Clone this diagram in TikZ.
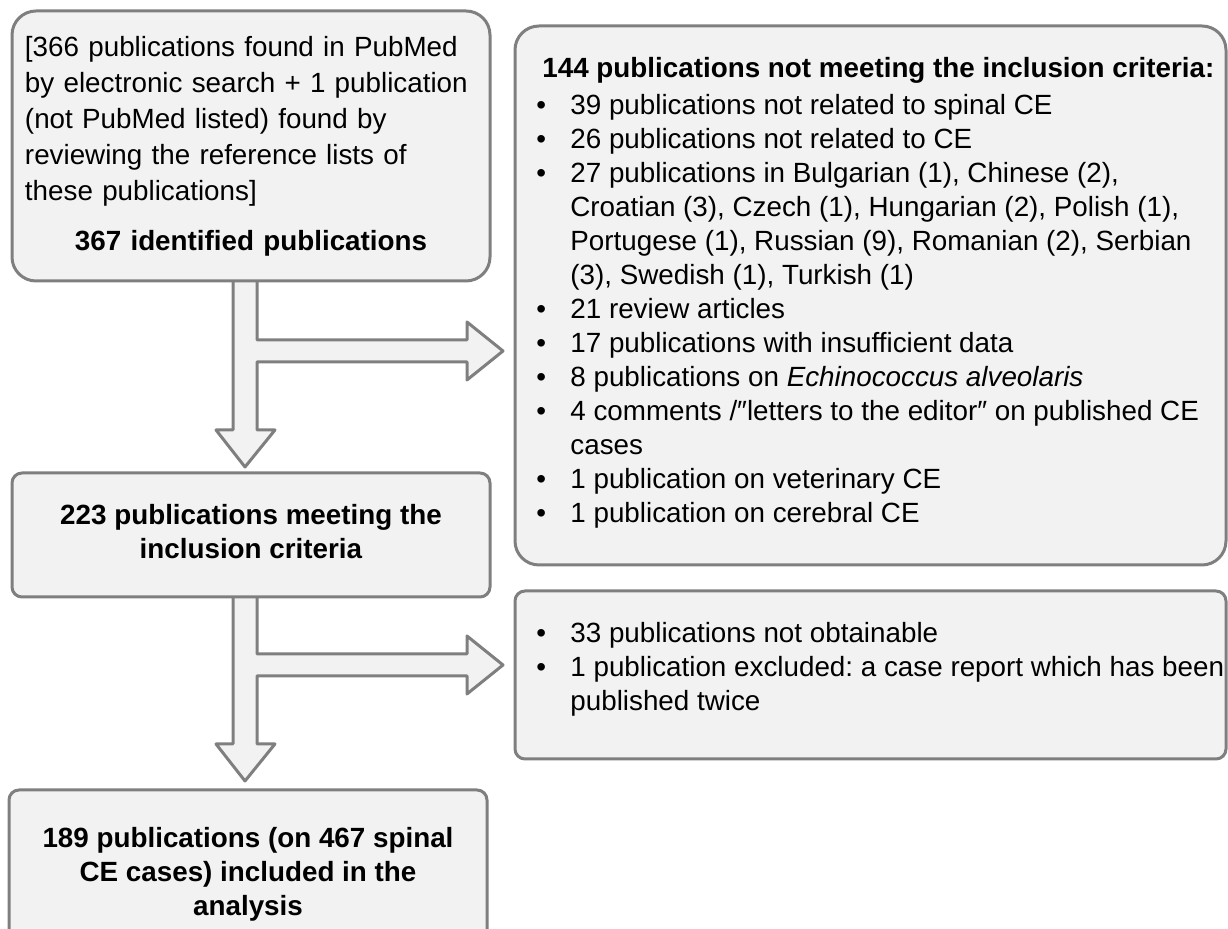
\documentclass[tikz,border=0pt]{standalone}
\usepackage{fontspec}
\setmainfont{Liberation Sans}
\usetikzlibrary{positioning}
\definecolor{boxfill}{HTML}{F2F2F2}
\definecolor{boxline}{HTML}{7F7F7F}
\newcommand{\bul}{\hspace*{-3pt}\makebox[17pt][l]{\textbullet}}
\newcommand{\ind}{\hspace*{14pt}}
\tikzset{
    bigbox/.style = {draw=boxline, fill=boxfill, line width=1.5pt, rounded corners=12pt},
    smallbox/.style = {draw=boxline, fill=boxfill, line width=1.5pt, rounded corners=5pt},
    blockarrow/.style = {draw=boxline, fill=boxfill, line width=1.5pt, line join=round},
    listtext/.style = {anchor=north west, align=left, inner sep=0pt},
    teearrow/.pic = {
        \draw[blockarrow] (233,0) -- (257,0) -- (257,65) -- (467,65) -- (467,47)
            -- (503,76) -- (467,105) -- (467,87) -- (257,87) -- (257,155)
            -- (275,155) -- (245,192) -- (216,155) -- (233,155) -- cycle;
    }
}
\begin{document}
\frenchspacing
\begin{tikzpicture}[x=0.5pt, y=-0.5pt, font=\fontsize{13.9}{17}\selectfont]
\useasboundingbox (0,0) rectangle (1228,929);
% block arrows go under the boxes
\pic at (0,275) {teearrow};
\pic at (0,589) {teearrow};
%
\node[bigbox, minimum width=239pt, minimum height=135pt, text width=226pt, align=left,
      font=\fontsize{13.9}{18}\selectfont] (b1) at (251,146)
    {[366 publications found in PubMed\\by electronic search + 1 publication\\(not PubMed listed) found by\\reviewing the reference lists of\\these publications]\\[7pt]
    \makebox[\linewidth][c]{\textbf{367 identified publications}}};
\node[bigbox, minimum width=355.5pt, minimum height=269.5pt] (b2) at (870.5,295.5) {};
\node[smallbox, minimum width=239pt, minimum height=62pt, align=center, text depth=4pt] (b3) at (251,535)
    {\textbf{223 publications meeting the}\\\textbf{inclusion criteria}};
\node[smallbox, minimum width=239pt, minimum height=84pt, align=center] (b5) at (248,874)
    {\textbf{189 publications (on 467 spinal}\\\textbf{CE cases) included in the}\\\textbf{analysis}};
\node[smallbox, minimum width=355.5pt, minimum height=84pt] (b4) at (870.5,675) {};
%
\node[listtext] (t2) at (542,57)
    {\textbf{144 publications not meeting the inclusion criteria:}\\[1.5pt]
    \bul 39 publications not related to spinal CE\\
    \bul 26 publications not related to CE\\
    \bul 27 publications in Bulgarian (1), Chinese (2),\\
    \ind Croatian (3), Czech (1), Hungarian (2), Polish (1),\\
    \ind Portugese (1), Russian (9), Romanian (2), Serbian\\
    \ind (3), Swedish (1), Turkish (1)\\
    \bul 21 review articles\\
    \bul 17 publications with insufficient data\\
    \bul 8 publications on \textit{Echinococcus alveolaris}\\
    \bul 4 comments /″letters to the editor″ on published CE\\
    \ind cases\\
    \bul 1 publication on veterinary CE\\
    \bul 1 publication on cerebral CE};
\node[listtext] (t4) at (542,622)
    {\bul 33 publications not obtainable\\
    \bul 1 publication excluded: a case report which has been\\
    \ind published twice};
\end{tikzpicture}
\end{document}
